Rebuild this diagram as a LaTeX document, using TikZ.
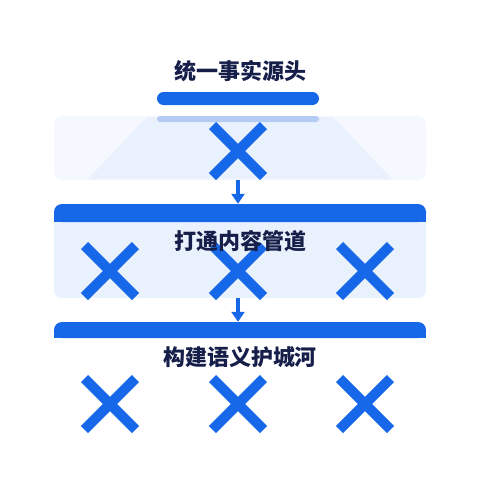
\documentclass[tikz,border=0pt]{standalone}
\usepackage{fontspec}
\newfontfamily\cjk{Noto Sans CJK SC}
\usetikzlibrary{arrows.meta,shapes.misc}

\definecolor{barblue}{RGB}{22,104,232}
\definecolor{fadeblue}{RGB}{180,204,243}
\definecolor{inkblue}{RGB}{22,30,74}
\definecolor{paleA}{RGB}{245,248,254}
\definecolor{paleB}{RGB}{233,241,253}

\begin{document}
\begin{tikzpicture}[x=1pt, y=-1pt,
  title/.style = {text=inkblue, font=\cjk\bfseries\fontsize{22}{22}\selectfont, inner sep=0},
  panel/.style = {minimum width=372, inner sep=0, rounded corners=8},
  xmark/.style = {cross out, draw=barblue, line width=10, minimum size=41, inner sep=0},
  flow/.style = {draw=barblue, line width=4, -{Triangle[width=13,length=10]}}]
\useasboundingbox (0,0) rectangle (480,480);
% source block
\node[title] (t1) at (240,71) {统一事实源头};
\node[panel, fill=paleA, minimum height=64] (src) at (240,148) {};
\fill[paleB] (147,117) -- (333,117) -- (392,179) -- (88,179) -- cycle;
\node[fill=barblue, minimum width=162, minimum height=13, inner sep=0, rounded corners=6.5] (bar) at (238,98.5) {};
\fill[fadeblue, rounded corners=3] (157,116) -- (319,116) -- (319,122) -- (157,122) -- cycle;
\node[xmark] (x1) at (238,151) {};
% pipeline block
\node[panel, fill=paleB, minimum height=94] (pipe) at (240,251) {};
\fill[barblue, rounded corners=8] (54,222) -- (54,204) -- (426,204) -- (426,222) -- cycle;
\fill[barblue] (54,214) rectangle (426,222);
\node[xmark] (x2) at (110,271) {};
\node[xmark] (x3) at (238,271) {};
\node[xmark] (x4) at (365,271) {};
\node[title] (t2) at (240,241) {打通内容管道};
% moat block
\node[panel, fill=barblue, minimum height=16] (moat) at (240,330) {};
\fill[barblue] (54,330) rectangle (426,338);
\node[title] (t3) at (240,357) {构建语义护城河};
\node[xmark] (x5) at (110,404) {};
\node[xmark] (x6) at (238,404) {};
\node[xmark] (x7) at (365,404) {};
% arrows
\draw[flow] (src.south -| x1) -- (pipe.north -| x1);
\draw[flow] (pipe.south -| x1) -- (moat.north -| x1);
\end{tikzpicture}
\end{document}
